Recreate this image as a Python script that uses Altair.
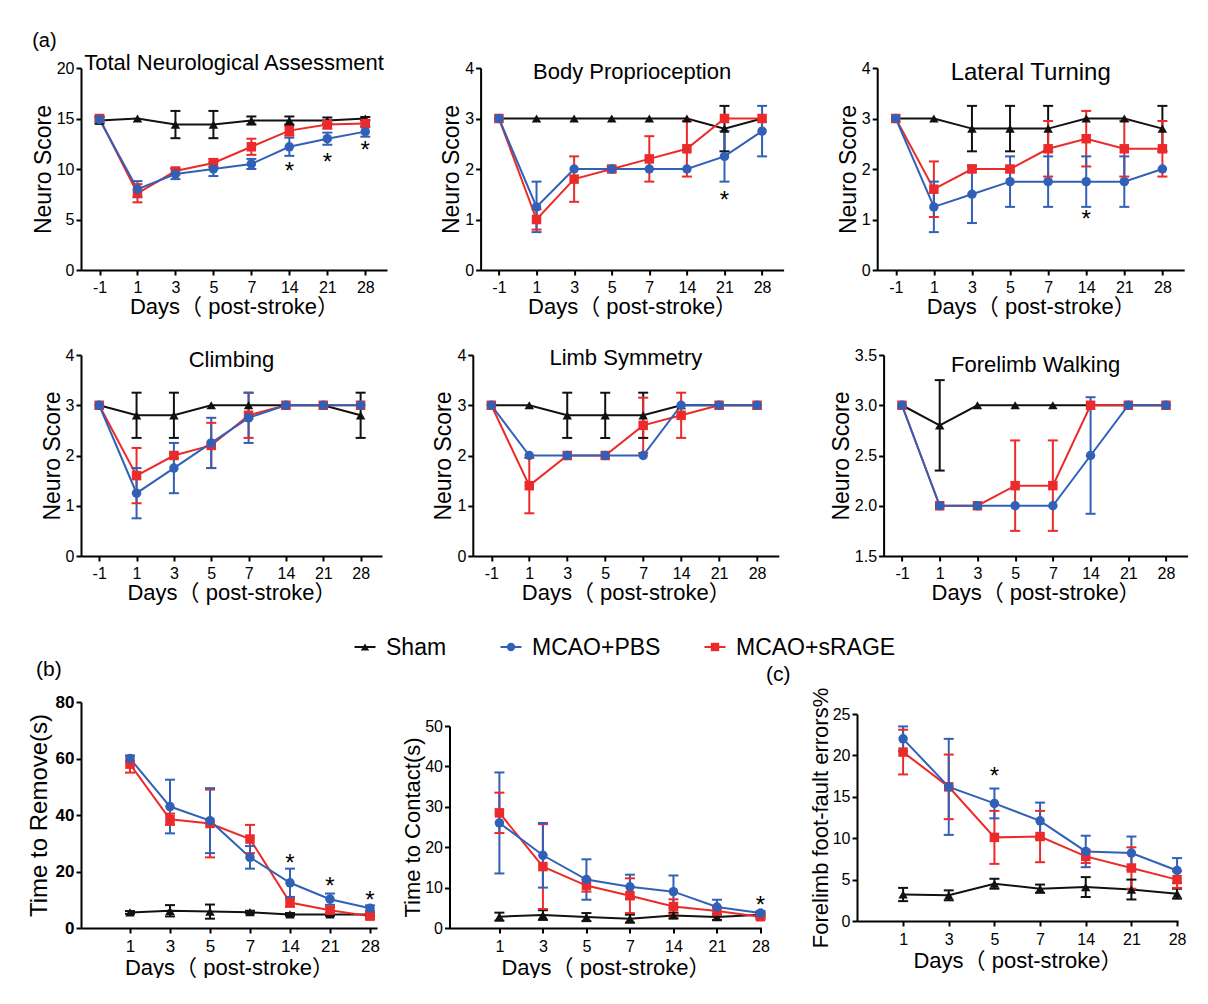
import altair as alt
import pandas as pd

FONT = "Liberation Sans, Noto Sans CJK SC"
BLACK = "#111111"
BLUE = "#3161B7"
RED = "#EC2A2A"

SER_DRAW = ["Sham", "MCAO+sRAGE", "MCAO+PBS"]
SER_COL = [BLACK, RED, BLUE]
SER_SHAPE = ["triangle-up", "square", "circle"]

days_a = ["-1", "1", "3", "5", "7", "14", "21", "28"]
days_b = ["1", "3", "5", "7", "14", "21", "28"]

# ---- (a) Total Neurological Assessment
tot_sham = [14.8, 15.0, 14.4, 14.4, 14.8, 14.8, 14.8, 15.0]
tot_sham_err = [0.3, 0.0, 1.35, 1.35, 0.4, 0.4, 0.3, 0.15]
tot_pbs = [14.9, 8.0, 9.5, 10.0, 10.5, 12.2, 13.0, 13.7]
tot_pbs_err = [0.3, 0.8, 0.5, 0.7, 0.5, 0.9, 0.6, 0.5]
tot_srage = [15.0, 7.6, 9.8, 10.6, 12.2, 13.8, 14.4, 14.5]
tot_srage_err = [0.2, 0.9, 0.3, 0.4, 0.8, 0.5, 0.4, 0.3]
tot_star_days = ["14", "21", "28"]
tot_star_y = [10.4, 11.3, 12.5]

# ---- Body Proprioception
bp_sham = [3, 3, 3, 3, 3, 3, 2.8, 3]
bp_sham_err = [0, 0, 0, 0, 0, 0, 0.45, 0]
bp_pbs = [3, 1.25, 2, 2, 2, 2, 2.25, 2.75]
bp_pbs_err = [0, 0.5, 0, 0, 0, 0, 0.5, 0.5]
bp_srage = [3, 1.0, 1.8, 2.0, 2.2, 2.4, 3, 3]
bp_srage_err = [0, 0.2, 0.45, 0.05, 0.45, 0.55, 0, 0]
bp_star_days = ["21"]
bp_star_y = [1.5]

# ---- Lateral Turning
lt_sham = [3, 3, 2.8, 2.8, 2.8, 3, 3, 2.8]
lt_sham_err = [0, 0, 0.45, 0.45, 0.45, 0, 0, 0.45]
lt_pbs = [3, 1.25, 1.5, 1.75, 1.75, 1.75, 1.75, 2.0]
lt_pbs_err = [0, 0.5, 0.57, 0.5, 0.5, 0.5, 0.5, 0]
lt_srage = [3, 1.6, 2, 2, 2.4, 2.6, 2.4, 2.4]
lt_srage_err = [0, 0.55, 0.05, 0.05, 0.55, 0.55, 0.55, 0.55]
lt_star_days = ["14"]
lt_star_y = [1.12]

# ---- Climbing
cl_sham = [3, 2.8, 2.8, 3, 3, 3, 3, 2.8]
cl_sham_err = [0, 0.45, 0.45, 0, 0, 0, 0, 0.45]
cl_pbs = [3, 1.25, 1.75, 2.25, 2.75, 3, 3, 3]
cl_pbs_err = [0, 0.5, 0.5, 0.5, 0.5, 0, 0, 0]
cl_srage = [3, 1.6, 2.0, 2.2, 2.8, 3, 3, 3]
cl_srage_err = [0, 0.55, 0.05, 0.45, 0.45, 0, 0, 0]

# ---- Limb Symmetry
ls_sham = [3, 3, 2.8, 2.8, 2.8, 3, 3, 3]
ls_sham_err = [0, 0, 0.45, 0.45, 0.45, 0, 0, 0]
ls_pbs = [3, 2, 2, 2, 2, 3, 3, 3]
ls_pbs_err = [0, 0, 0, 0, 0, 0, 0, 0]
ls_srage = [3, 1.4, 2, 2, 2.6, 2.8, 3, 3]
ls_srage_err = [0, 0.55, 0, 0, 0.55, 0.45, 0, 0]

# ---- Forelimb Walking
fw_sham = [3, 2.8, 3, 3, 3, 3, 3, 3]
fw_sham_err = [0, 0.45, 0, 0, 0, 0, 0, 0]
fw_pbs = [3, 2, 2, 2, 2, 2.5, 3, 3]
fw_pbs_err = [0, 0, 0, 0, 0, 0.58, 0, 0]
fw_srage = [3, 2, 2, 2.2, 2.2, 3, 3, 3]
fw_srage_err = [0, 0, 0, 0.45, 0.45, 0, 0, 0]

# ---- (b) Time to Remove
tr_sham = [5.5, 6.1, 5.8, 5.6, 4.8, 4.8, 4.8]
tr_sham_err = [0.5, 2.0, 2.5, 0.5, 0.5, 0.5, 0.5]
tr_pbs = [60, 43, 38, 25, 16, 10.2, 7.0]
tr_pbs_err = [1, 9.5, 11.5, 4, 5, 2, 1]
tr_srage = [58, 38.5, 37, 31.5, 9, 6.3, 4.2]
tr_srage_err = [3, 2, 12, 5, 1.5, 1, 1]
tr_star_days = ["14", "21", "28"]
tr_star_y = [25.3, 17.1, 12.0]

# ---- Time to Contact
tc_sham = [2.8, 3.2, 2.7, 2.3, 3.1, 2.7, 3.3]
tc_sham_err = [1, 1.2, 1, 1, 0.7, 0.7, 0.5]
tc_pbs = [26, 18, 12, 10.2, 9, 5.2, 3.7]
tc_pbs_err = [12.5, 8, 5, 3, 4, 1.8, 0.5]
tc_srage = [28.5, 15.2, 10.5, 8, 5.3, 4.2, 2.8]
tc_srage_err = [5, 10.5, 1.5, 4.3, 1.8, 1, 0.5]
tc_star_days = ["28"]
tc_star_y = [7.3]

# ---- (c) Forelimb foot-fault errors
ff_sham = [3.2, 3.1, 4.5, 3.9, 4.1, 3.8, 3.3]
ff_sham_err = [0.8, 0.6, 0.6, 0.5, 1.2, 1.2, 0.6]
ff_pbs = [22, 16.2, 14.2, 12.1, 8.4, 8.2, 6.1]
ff_pbs_err = [1.5, 5.8, 1.8, 2.2, 1.9, 2.0, 1.5]
ff_srage = [20.4, 16.2, 10.1, 10.2, 7.8, 6.4, 5.0]
ff_srage_err = [2.7, 3.9, 3.2, 3.1, 0.8, 2.5, 1.0]
ff_star_days = ["5"]
ff_star_y = [18.2]

legend_names = ["Sham", "MCAO+PBS", "MCAO+sRAGE"]
legend_cols = [BLACK, BLUE, RED]
legend_shapes = ["triangle-up", "circle", "square"]


def panel(days, sham, sham_e, pbs, pbs_e, srage, srage_e, ydom, yvals, ytitle,
          width, height, title=None, star_days=(), star_y=(), xpad=0.53, xalign=0.46,
          label_size=16, ylabel_weight="normal", ytitle_size=23, xtitle_size=22,
          ytp=1, yfmt=None, xlp=4, xtp=1):
    rows = []
    for s, vals, errs in [("Sham", sham, sham_e), ("MCAO+sRAGE", srage, srage_e),
                          ("MCAO+PBS", pbs, pbs_e)]:
        for i, (d, v, e) in enumerate(zip(days, vals, errs)):
            rows.append(dict(day=d, idx=i, series=s, val=v, err=e, lo=v - e, hi=v + e))
    df = pd.DataFrame(rows)
    dfe = df[df["err"] > 0]

    xaxis = alt.Axis(title="Days（ post-stroke）", labelAngle=0, domainColor="black",
                     domainWidth=2, tickColor="black", tickWidth=2, tickSize=5,
                     labelFont=FONT, labelFontSize=label_size, labelColor="black",
                     labelPadding=xlp, titleFont=FONT, titleFontSize=xtitle_size,
                     titleFontWeight="normal", titleColor="black", titlePadding=xtp,
                     grid=False)
    xenc = alt.X("day:O", sort=list(days),
                 scale=alt.Scale(type="point", padding=xpad, align=xalign), axis=xaxis)
    yargs = dict(title=ytitle, values=yvals, domainColor="black", domainWidth=2,
                 tickColor="black", tickWidth=2, tickSize=5, labelFont=FONT,
                 labelFontSize=label_size, labelFontWeight=ylabel_weight,
                 labelColor="black", labelPadding=2, titleFont=FONT,
                 titleFontSize=ytitle_size, titleFontWeight="normal", titleColor="black",
                 titlePadding=ytp, grid=False)
    if yfmt:
        yargs["format"] = yfmt
    yaxis = alt.Axis(**yargs)
    yscale = alt.Scale(domain=ydom, nice=False, zero=False)

    def Y(f):
        return alt.Y(f, scale=yscale, axis=yaxis)

    color = alt.Color("series:N", scale=alt.Scale(domain=SER_DRAW, range=SER_COL), legend=None)
    shape = alt.Shape("series:N", scale=alt.Scale(domain=SER_DRAW, range=SER_SHAPE), legend=None)

    line = alt.Chart(df).mark_line(strokeWidth=2).encode(
        x=xenc, y=Y("val:Q"), color=color, order=alt.Order("idx:Q"))
    rule = alt.Chart(dfe).mark_rule(strokeWidth=2).encode(
        x=xenc, y=Y("lo:Q"), y2="hi:Q", color=color)
    cap_hi = alt.Chart(dfe).mark_tick(thickness=2, size=10, opacity=1).encode(
        x=xenc, y=Y("hi:Q"), color=color)
    cap_lo = alt.Chart(dfe).mark_tick(thickness=2, size=10, opacity=1).encode(
        x=xenc, y=Y("lo:Q"), color=color)
    pts = alt.Chart(df).mark_point(filled=True, size=90, opacity=1).encode(
        x=xenc, y=Y("val:Q"), color=color, shape=shape)
    layers = [line, rule, cap_hi, cap_lo, pts]
    if len(star_days):
        sdf = pd.DataFrame({"day": list(star_days), "y": list(star_y),
                            "t": ["*"] * len(star_days)})
        stars = alt.Chart(sdf).mark_text(font=FONT, fontSize=24, color="black",
                                         baseline="middle", dy=7).encode(
            x=xenc, y=Y("y:Q"), text="t:N")
        layers.append(stars)
    props = dict(width=width, height=height)
    if title is not None:
        props["title"] = title
    return alt.layer(*layers).properties(**props)


def ptitle(text, offset, size=22):
    return alt.TitleParams(text, fontSize=size, font=FONT, fontWeight="normal",
                           color="black", anchor="middle", frame="group", offset=offset)


def spacer(h):
    return alt.Chart(pd.DataFrame({"v": [0]})).mark_point(opacity=0, size=1).properties(
        width=1, height=h)


p1 = panel(days_a, tot_sham, tot_sham_err, tot_pbs, tot_pbs_err, tot_srage, tot_srage_err,
           [0, 20], [0, 5, 10, 15, 20], "Neuro Score", 306, 202,
           title=ptitle("Total Neurological Assessment", -15.4),
           star_days=tot_star_days, star_y=tot_star_y)
p2 = panel(days_a, bp_sham, bp_sham_err, bp_pbs, bp_pbs_err, bp_srage, bp_srage_err,
           [0, 4], [0, 1, 2, 3, 4], "Neuro Score", 303, 202,
           title=ptitle("Body Proprioception", -24.4),
           star_days=bp_star_days, star_y=bp_star_y)
p3 = panel(days_a, lt_sham, lt_sham_err, lt_pbs, lt_pbs_err, lt_srage, lt_srage_err,
           [0, 4], [0, 1, 2, 3, 4], "Neuro Score", 307, 202,
           title=ptitle("Lateral Turning", -24.8, 24),
           star_days=lt_star_days, star_y=lt_star_y)
p4 = panel(days_a, cl_sham, cl_sham_err, cl_pbs, cl_pbs_err, cl_srage, cl_srage_err,
           [0, 4], [0, 1, 2, 3, 4], "Neuro Score", 301, 201,
           title=ptitle("Climbing", -25.4))
p5 = panel(days_a, ls_sham, ls_sham_err, ls_pbs, ls_pbs_err, ls_srage, ls_srage_err,
           [0, 4], [0, 1, 2, 3, 4], "Neuro Score", 306, 201,
           title=ptitle("Limb Symmetry", -23.4))
p6 = panel(days_a, fw_sham, fw_sham_err, fw_pbs, fw_pbs_err, fw_srage, fw_srage_err,
           [1.5, 3.5], [1.5, 2.0, 2.5, 3.0, 3.5], "Neuro Score", 304, 201,
           title=ptitle("Forelimb Walking", -30.4), yfmt=".1f")

p7 = panel(days_b, tr_sham, tr_sham_err, tr_pbs, tr_pbs_err, tr_srage, tr_srage_err,
           [0, 80], [0, 20, 40, 60, 80], "Time to Remove(s)", 296, 226,
           star_days=tr_star_days, star_y=tr_star_y, xpad=0.7, xalign=0.875,
           label_size=17, ylabel_weight="bold", ytitle_size=24, xtitle_size=22,
           ytp=4, xlp=5, xtp=3)
p8 = panel(days_b, tc_sham, tc_sham_err, tc_pbs, tc_pbs_err, tc_srage, tc_srage_err,
           [0, 50], [0, 10, 20, 30, 40, 50], "Time to Contact(s)", 312, 202,
           star_days=tc_star_days, star_y=tc_star_y, xpad=0.585, xalign=0.98,
           label_size=16, ytitle_size=22, xtitle_size=22, ytp=0, xlp=5, xtp=3)
p9 = panel(days_b, ff_sham, ff_sham_err, ff_pbs, ff_pbs_err, ff_srage, ff_srage_err,
           [0, 25], [0, 5, 10, 15, 20, 25], "Forelimb foot-fault errors%", 321, 207,
           star_days=ff_star_days, star_y=ff_star_y, xpad=0.515, xalign=0.98,
           label_size=16, ytitle_size=22, xtitle_size=22, ytp=0, xlp=5, xtp=3)

# ---- legend row with the panel letters (b) and (c)
one = pd.DataFrame({"v": [0]})
LEG_Y = 44
leg_sym_x = [284, 430, 634]
leg_layers = []
for name, col, shp, cx in zip(legend_names, legend_cols, legend_shapes, leg_sym_x):
    leg_layers.append(alt.Chart(one).mark_rule(color=col, strokeWidth=2).encode(
        x=alt.value(cx - 10.5), x2=alt.value(cx + 10.5), y=alt.value(LEG_Y)))
    leg_layers.append(alt.Chart(one).mark_point(shape=shp, filled=True, color=col,
                                                size=70, opacity=1).encode(
        x=alt.value(cx), y=alt.value(LEG_Y)))
    leg_layers.append(alt.Chart(one).mark_text(text=name, font=FONT, fontSize=23,
                                               color="black", align="left",
                                               baseline="middle").encode(
        x=alt.value(cx + 21), y=alt.value(LEG_Y + 1)))
leg_layers.append(alt.Chart(one).mark_text(text="(b)", font=FONT, fontSize=21,
                                           color="black", align="left",
                                           baseline="middle").encode(
    x=alt.value(-45), y=alt.value(67)))
leg_layers.append(alt.Chart(one).mark_text(text="(c)", font=FONT, fontSize=21,
                                           color="black", align="left",
                                           baseline="middle").encode(
    x=alt.value(685), y=alt.value(72)))
legrow = alt.layer(*leg_layers).properties(width=1040, height=70)

row1 = alt.hconcat(p1, p2, p3, spacing=53.6,
                   title=alt.TitleParams("(a)", anchor="start", fontSize=20, font=FONT,
                                         fontWeight="normal", color="black", offset=1))
row2 = alt.hconcat(p4, p5, p6, spacing=50.8)
A7 = alt.vconcat(spacer(6.5), p7, spacing=0)
B8 = alt.vconcat(spacer(32), p8, spacing=0)
C9 = alt.vconcat(spacer(0.5), p9, spacing=0)
row3 = alt.hconcat(alt.hconcat(A7, B8, spacing=21.5), C9, spacing=39)

chart = alt.vconcat(
    alt.vconcat(row1, row2, spacing=30),
    legrow, row3, spacing=0,
).properties(
    padding={"left": 19, "top": 23, "right": 5, "bottom": 0},
    background="white",
).configure_view(strokeWidth=0, stroke="transparent")

chart.save("out.html", embed_options={"renderer": "svg", "actions": False})
